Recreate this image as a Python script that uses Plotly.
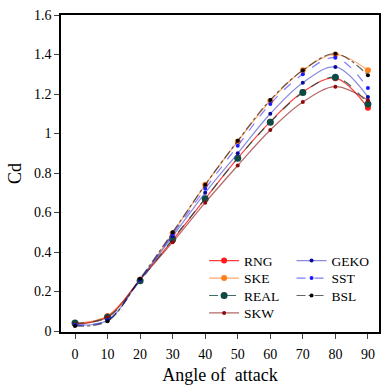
import plotly.graph_objects as go

angles = [0, 10, 20, 30, 40, 50, 60, 70, 80, 90]
rng = [0.035, 0.075, 0.26, 0.46, 0.67, 0.875, 1.06, 1.21, 1.28, 1.13]
ske = [0.04, 0.075, 0.26, 0.495, 0.74, 0.96, 1.165, 1.32, 1.40, 1.32]
real = [0.04, 0.07, 0.255, 0.465, 0.67, 0.875, 1.057, 1.207, 1.285, 1.15]
skw = [0.035, 0.07, 0.26, 0.45, 0.65, 0.838, 1.018, 1.16, 1.237, 1.168]
geko = [0.03, 0.055, 0.26, 0.48, 0.70, 0.90, 1.10, 1.257, 1.337, 1.185]
sst = [0.03, 0.055, 0.26, 0.49, 0.72, 0.938, 1.15, 1.30, 1.384, 1.23]
bsl = [0.025, 0.05, 0.265, 0.50, 0.74, 0.963, 1.17, 1.32, 1.404, 1.295]

x_ticks = [0, 10, 20, 30, 40, 50, 60, 70, 80, 90]
y_ticks = [0, 0.2, 0.4, 0.6, 0.8, 1.0, 1.2, 1.4, 1.6]
y_tick_text = ["0", "0.2", "0.4", "0.6", "0.8", "1", "1.2", "1.4", "1.6"]

# name, values, marker colour, line colour, dash, marker size, legend column, legend row
series = [
    ("RNG", rng, "#ff1a1a", "rgba(255,40,40,0.9)", "solid", 6, 0, 0),
    ("SKE", ske, "#ff7f1a", "rgba(255,140,60,0.75)", "solid", 6, 0, 1),
    ("REAL", real, "#0d4a44", "rgba(13,74,68,0.8)", "dash", 7, 0, 2),
    ("SKW", skw, "#8b0a0a", "rgba(150,40,40,0.7)", "solid", 4, 0, 3),
    ("GEKO", geko, "#0a0a9a", "rgba(60,60,200,0.6)", "solid", 4, 1, 0),
    ("SST", sst, "#1a1aff", "rgba(40,40,255,0.6)", "dash", 4, 1, 1),
    ("BSL", bsl, "#000000", "rgba(0,0,0,0.6)", "dashdot", 4, 1, 2),
]

col_x = [0.45, 0.725]
row_y = [0.2246, 0.1695, 0.1145, 0.0595]

fig = go.Figure()
legend_layout = {}
for i, (name, ys, mc, lc, dash, ms, col, row) in enumerate(series):
    key = "legend" if i == 0 else f"legend{i + 1}"
    fig.add_trace(go.Scatter(
        x=angles, y=ys, name=name, mode="lines+markers",
        line=dict(color=lc, width=1.2, dash=dash, shape="spline", smoothing=1.0),
        marker=dict(color=mc, size=ms, symbol="circle"),
        legend=key, showlegend=True,
    ))
    legend_layout[key] = dict(x=col_x[col], y=row_y[row], xanchor="left", yanchor="middle",
                              bgcolor="rgba(0,0,0,0)", font=dict(size=13.5),
                              itemwidth=30)

font_family = "Liberation Serif, Times New Roman, serif"
fig.update_layout(
    width=383, height=385,
    showlegend=True,
    margin=dict(l=61, r=2, t=15, b=52),
    paper_bgcolor="white", plot_bgcolor="white",
    font=dict(family=font_family, size=14, color="black"),
    xaxis=dict(range=[-4.3, 93.4], tickvals=x_ticks, ticks="outside", ticklen=5,
               ticklabelstandoff=3,
               showline=True, linecolor="black", linewidth=1.5, mirror=True,
               showgrid=False, zeroline=False,
               title=dict(text="Angle of  attack", font=dict(size=18), standoff=9),
               tickfont=dict(size=14)),
    yaxis=dict(range=[-0.005, 1.6], tickvals=y_ticks, ticktext=y_tick_text,
               ticks="outside", ticklen=5,
               showline=True, linecolor="black", linewidth=1.5, mirror=True,
               showgrid=False, zeroline=False,
               title=dict(text="Cd", font=dict(size=18), standoff=8),
               tickfont=dict(size=14)),
    **legend_layout,
)

fig.write_html("out.html", config={"displayModeBar": False},
               post_script="document.body.style.margin='0';document.body.style.overflow='hidden';")
